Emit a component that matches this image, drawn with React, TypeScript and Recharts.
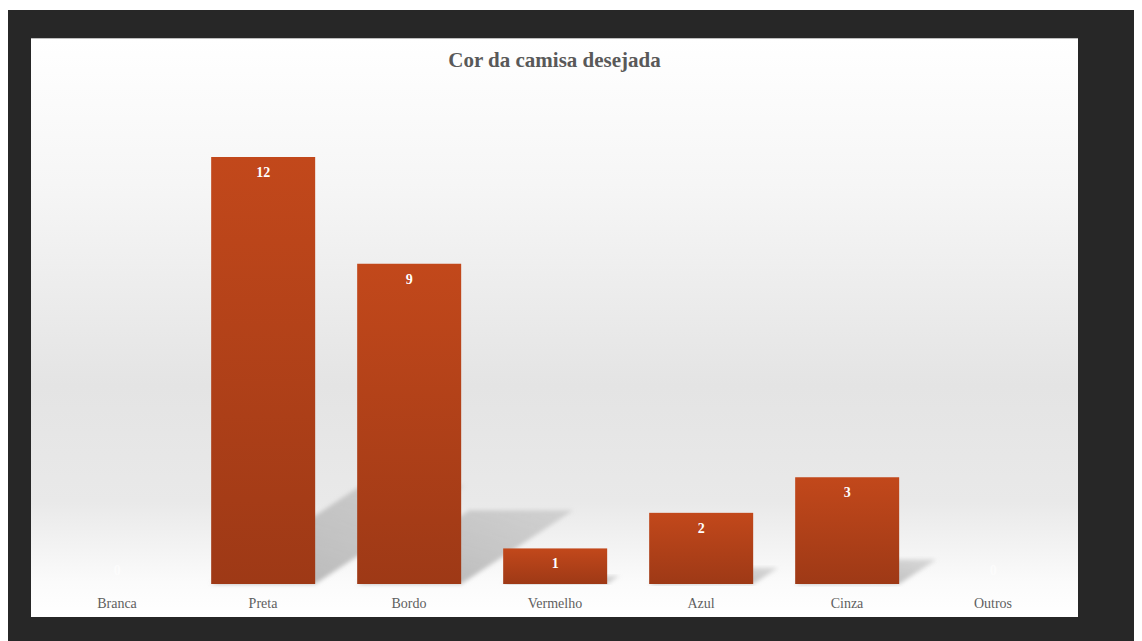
import { Bar, BarChart, LabelList, XAxis, YAxis } from 'recharts';

const categories = ['Branca', 'Preta', 'Bordo', 'Vermelho', 'Azul', 'Cinza', 'Outros'];
const counts = [0, 12, 9, 1, 2, 3, 0];

const data = categories.map((name, i) => ({ name, value: counts[i] }));

const serif = '"Liberation Serif", "DejaVu Serif", serif';

// bar with a floor shadow cast up and to the right
function ShadowBar(props: any) {
  const { x, y, width, height } = props;
  if (!height || height <= 0) return null;
  const base = y + height;
  const dx = height * 0.35;
  const dy = height * 0.23;
  const shadow = `${x},${base} ${x + width},${base} ${x + width + dx},${base - dy} ${x + dx},${base - dy}`;
  return (
    <g>
      <polygon points={shadow} fill="url(#shadowFade)" filter="url(#soft)" />
      <rect x={x} y={y} width={width} height={height} fill="url(#barFill)" />
    </g>
  );
}

function ValueLabel(props: any) {
  const { x, y, width, value } = props;
  const cx = x + width / 2;
  const zero = value === 0;
  return (
    <text
      x={cx}
      y={zero ? y - 14 : y + 15}
      dy="0.35em"
      textAnchor="middle"
      fill="#fff"
      fillOpacity={zero ? 0.6 : 1}
      fontFamily={serif}
      fontWeight="bold"
      fontSize={14}
    >
      {value}
    </text>
  );
}

export default function App() {
  return (
    <div style={{ marginTop: 2, width: 1134, height: 631, background: '#272727', position: 'relative' }}>
      <div
        style={{
          position: 'absolute',
          left: 23,
          top: 28,
          width: 1047,
          height: 578,
          borderTop: '1px solid #bdbdbd',
          background: 'linear-gradient(to bottom, #ffffff 0%, #f6f6f6 25%, #e4e4e4 60%, #e9e9e9 80%, #fbfbfb 94%, #ffffff 100%)',
        }}
      >
        <div
          style={{
            position: 'absolute',
            top: 9,
            left: 0,
            width: 1047,
            textAlign: 'center',
            fontFamily: serif,
            fontWeight: 'bold',
            fontSize: 21,
            color: '#595959',
          }}
        >
          Cor da camisa desejada
        </div>
        <BarChart
          width={1047}
          height={577}
          data={data}
          margin={{ top: 118, right: 12, left: 13, bottom: 1 }}
          barCategoryGap="14.5%"
        >
          <defs>
            <linearGradient id="barFill" x1="0" y1="0" x2="0" y2="1">
              <stop offset="0%" stopColor="#c2481b" />
              <stop offset="100%" stopColor="#9e3916" />
            </linearGradient>
            <linearGradient id="shadowFade" x1="0" y1="1" x2="1" y2="0">
              <stop offset="0%" stopColor="#9a9a9a" stopOpacity={0.75} />
              <stop offset="100%" stopColor="#b0b0b0" stopOpacity={0.45} />
            </linearGradient>
            <filter id="soft" x="-10%" y="-10%" width="120%" height="120%">
              <feGaussianBlur stdDeviation="2" />
            </filter>
          </defs>
          <XAxis
            dataKey="name"
            axisLine={false}
            tickLine={false}
            height={31}
            tickMargin={8}
            tick={{ fill: '#5f5f5f', fontSize: 14, fontFamily: serif }}
          />
          <YAxis hide domain={[0, 12]} />
          <Bar dataKey="value" shape={<ShadowBar />} isAnimationActive={false}>
            <LabelList dataKey="value" content={<ValueLabel />} />
          </Bar>
        </BarChart>
      </div>
    </div>
  );
}
